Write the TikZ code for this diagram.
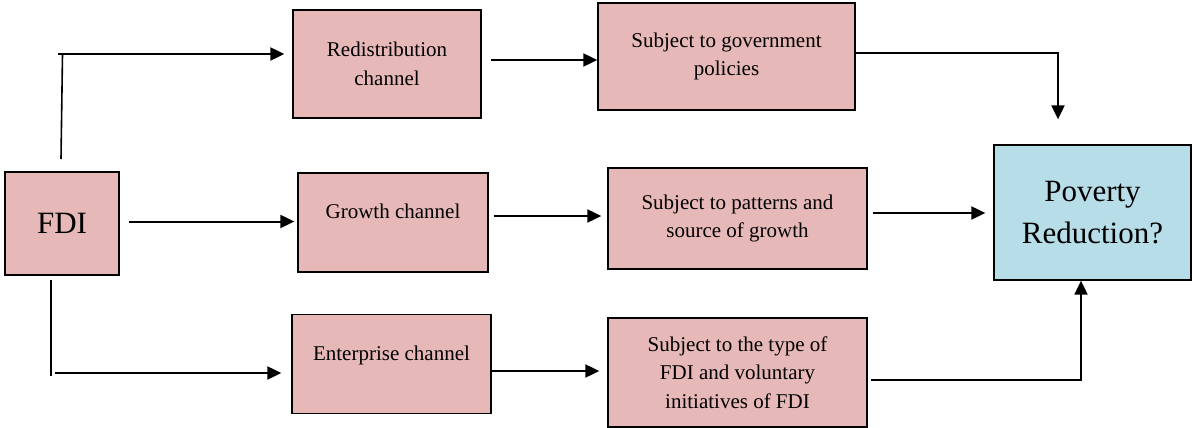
\documentclass[tikz,border=0pt]{standalone}
\usepackage{fontspec}
\setmainfont{Liberation Serif}
\usetikzlibrary{arrows.meta}
\definecolor{boxpink}{HTML}{E6B8B7}
\definecolor{boxblue}{HTML}{B7DDE8}
\begin{document}
\begin{tikzpicture}[x=1pt,y=-1pt,
  chan/.style={draw=black, line width=1.3pt, fill=boxpink, align=center,
    inner sep=0pt, font=\fontsize{21}{28.5}\selectfont},
  goal/.style={draw=black, line width=1.3pt, fill=boxblue, align=center,
    inner sep=0pt, font=\fontsize{31}{42}\selectfont},
  conn/.style={line width=1.6pt},
  arr/.style={line width=2pt, -{Triangle[length=14pt,width=13pt]}}]
\useasboundingbox (0,0) rectangle (1192,428);

% boxes
\node[chan, minimum width=114pt, minimum height=103pt,
  font=\fontsize{31}{36}\selectfont] (fdi) at (62,223.5) {FDI};
\node[chan, minimum width=188pt, minimum height=108pt] (redis) at (387,64)
  {Redistribution\\channel};
\node[chan, minimum width=257pt, minimum height=107pt] (gov) at (726.5,56.5)
  {Subject to government\\policies};
\node[chan, minimum width=190pt, minimum height=99pt] (growth) at (393,222.5)
  {\raisebox{4.5pt}[0pt][0pt]{Growth channel}};
\node[chan, minimum width=199pt, minimum height=99pt] (ent) at (391.5,364)
  {\raisebox{3.5pt}[0pt][0pt]{Enterprise channel}};
\node[chan, minimum width=259pt, minimum height=101pt] (pat) at (737.5,218.5)
  {Subject to patterns and\\source of growth};
\node[chan, minimum width=259pt, minimum height=109pt] (typ) at (737.5,372.5)
  {Subject to the type of\\FDI and voluntary\\initiatives of FDI};
\node[goal, minimum width=197pt, minimum height=135pt] (pov) at (1092.5,212.5)
  {Poverty\\Reduction?};

% free ends of the branching lines from FDI
\coordinate (up0) at (61,159);
\coordinate (up1) at (62.5,54.5);
\coordinate (upL) at (58,54);
\coordinate (dn0) at (51,280);
\coordinate (dn1) at (51,376);
\coordinate (dnL) at (55,373);

% FDI to the three channels
\draw[conn] (up0) -- (up1);
\draw[arr, shorten >=8pt] (upL) -- (upL -| redis.west);
\draw[arr, shorten <=9pt, shorten >=3pt] ([yshift=2pt]fdi.east) -- ([yshift=2pt]fdi.east -| growth.west);
\draw[conn] (dn0) -- (dn1);
\draw[arr, shorten >=10pt] (dnL) -- (dnL -| ent.west);

% channels to their conditions
\draw[arr, shorten <=9pt] ([yshift=4pt]redis.east) -- ([yshift=4pt]redis.east -| gov.west);
\draw[arr, shorten <=5pt, shorten >=6pt] ([yshift=6.5pt]growth.east) -- ([yshift=6.5pt]growth.east -| pat.west);
\draw[arr, shorten >=8pt] ([yshift=-7pt]ent.east) -- ([yshift=-7pt]ent.east -| typ.west);

% conditions to poverty reduction
\draw[arr, shorten >=25pt] ([yshift=3.5pt]gov.east) -| ([xshift=-34.5pt]pov.north);
\draw[arr, shorten <=5pt, shorten >=8pt] ([yshift=5.5pt]pat.east) -- ([yshift=5.5pt]pat.east -| pov.west);
\draw[arr, shorten <=3pt] ([yshift=-7.5pt]typ.east) -| ([xshift=-11.5pt]pov.south);
\end{tikzpicture}
\end{document}
